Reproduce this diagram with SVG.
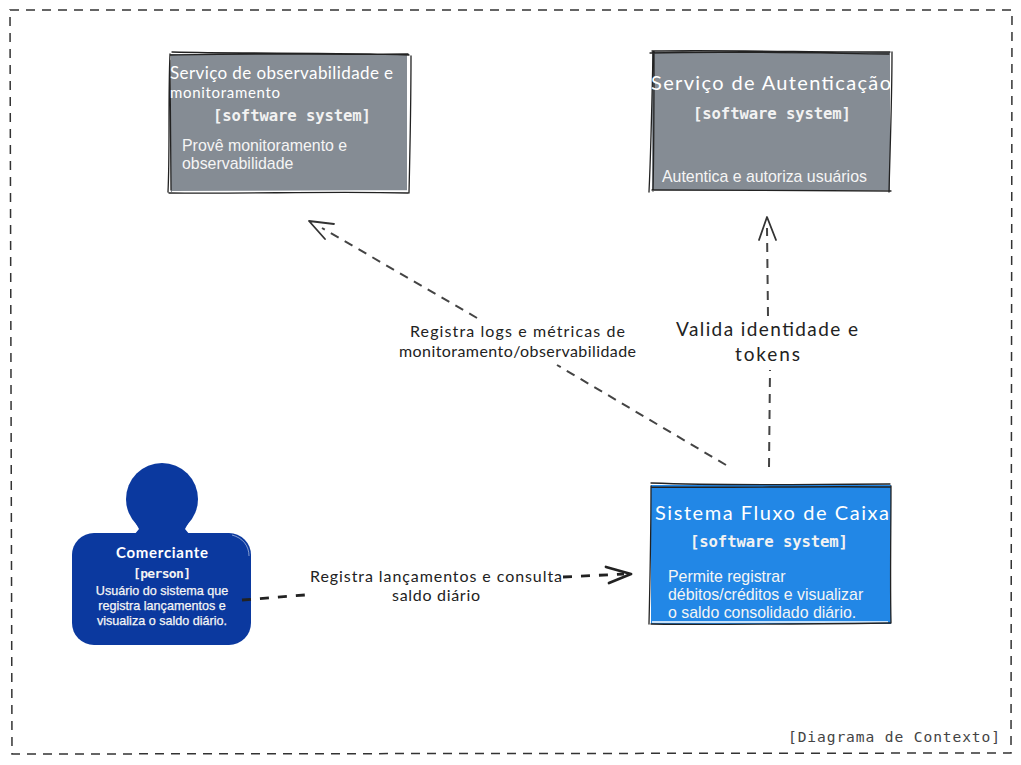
<svg xmlns="http://www.w3.org/2000/svg" width="1021" height="765" viewBox="0 0 1021 765">
<style>
.hand{font-family:"Lato","Open Sans",sans-serif;fill:#fff}
.lbl{font-family:"Lato","Open Sans",sans-serif;fill:#222}
.mono{font-family:"DejaVu Sans Mono","Liberation Mono",monospace;font-weight:700;font-size:15.6px;fill:#f2f2f2}
.body{font-family:"Liberation Sans",Arial,sans-serif;font-size:15.9px;fill:#f5f5f5}
.small{font-family:"Liberation Sans",Arial,sans-serif;font-size:12.6px;fill:#f5f5f5;stroke:#f5f5f5;stroke-width:.25}
.sk{fill:none;stroke:#222;stroke-width:1.3;stroke-linecap:round}
.gray{fill:#858c94}
.blue{fill:#2287e6}
.navy{fill:#0b399f}
.dash{fill:none;stroke:#444;stroke-width:2;stroke-dasharray:9 7}
.head{fill:none;stroke:#333;stroke-width:1.8;stroke-linecap:round;stroke-linejoin:round}
.dashb{fill:none;stroke:#222;stroke-width:2.8;stroke-dasharray:9 9}
.headb{fill:none;stroke:#222;stroke-width:2.8;stroke-linecap:round;stroke-linejoin:round}
</style>
<g id="boundary">
<path d="M10 10L1012 10L1011 753L12 754Z" fill="none" stroke="#333" stroke-width="1.5" stroke-dasharray="9 7"/>
<text x="788" y="742" font-family="DejaVu Sans Mono,Liberation Mono,monospace" font-size="14.6px" fill="#444" textLength="212">[Diagrama de Contexto]</text>
</g>
<g id="observabilidade">
<rect class="gray" x="171" y="54" width="238" height="138"/>
<path d="M408 55L408 191L172 192" fill="none" stroke="#fff" stroke-width="2"/>
<path class="sk" d="M170 55C250 53 330 55 408 54M170 54C168 100 170 150 168 192M411 56C411 100 410 150 409 193M169 193C250 194 330 191 408 193M172 52C250 54 330 52 409 55M170 60C170 100 171 150 171 190"/>
<text class="hand" font-size="17" x="170" y="79" textLength="223">Serviço de observabilidade e</text>
<text class="hand" font-size="15" x="170" y="98" textLength="110">monitoramento</text>
<text class="mono" x="213" y="121" textLength="158">[software system]</text>
<text class="body" x="182" y="151">Provê monitoramento e</text>
<text class="body" x="182" y="169">observabilidade</text>
</g>
<g id="autenticacao">
<rect class="gray" x="652" y="52" width="238" height="138"/>
<path class="sk" d="M652 51C730 50 810 52 890 52M653 52C652 100 651 150 649 192M892 52C892 100 890 150 889 192M652 190C730 191 810 190 891 191M654 52C654 100 654 150 653 191M650 53C730 51 810 53 889 54"/>
<text class="hand" font-size="20" x="651" y="90" textLength="240">Serviço de Autenticação</text>
<text class="mono" x="693" y="119" textLength="158">[software system]</text>
<text class="body" x="662" y="182">Autentica e autoriza usuários</text>
</g>
<g id="fluxo">
<rect class="blue" x="651" y="485" width="240" height="139"/>
<path d="M652 622L888 622" stroke="#fff" stroke-width="1.5" fill="none"/>
<path class="sk" d="M651 483C730 486 810 484 890 484M651 487C730 488 810 486 890 487M651 486C651 530 650 580 649 624M891 486C891 530 890 580 891 623M651 624C730 625 810 624 891 623"/>
<text class="hand" font-size="20" x="655" y="520" textLength="234">Sistema Fluxo de Caixa</text>
<text class="mono" x="690" y="547" textLength="158">[software system]</text>
<text class="body" x="668" y="582">Permite registrar</text>
<text class="body" x="668" y="600">débitos/créditos e visualizar</text>
<text class="body" x="668" y="618">o saldo consolidado diário.</text>
</g>
<g id="comerciante">
<circle class="navy" cx="162" cy="499" r="36"/>
<path class="navy" d="M134 520L190 520L185 529L190 535L134 535L139 529Z"/>
<rect class="navy" x="72" y="533" width="179" height="112" rx="22"/>
<path d="M232 535C243 538 249 546 249 556" fill="none" stroke="#fff" stroke-opacity=".5" stroke-width="1"/>
<text class="hand" font-size="15" x="116" y="558" textLength="92" font-weight="700">Comerciante</text>
<text class="mono" style="font-size:13px" x="133" y="578" textLength="58">[person]</text>
<text class="small" x="162" y="595" text-anchor="middle">Usuário do sistema que</text>
<text class="small" x="162" y="610" text-anchor="middle">registra lançamentos e</text>
<text class="small" x="162" y="625" text-anchor="middle">visualiza o saldo diário.</text>
</g>
<g id="connectors">
<path class="dash" d="M726 465L557 365"/>
<path class="dash" d="M477 318L322 228"/>
<path class="head" d="M334 224L309 221L325 239"/>
<path class="dash" d="M769 467L770 370"/>
<path class="dash" d="M768 316L767 228"/>
<path class="head" d="M759 240L767 217L776 240"/>
<path class="dashb" d="M242 600L305 595"/>
<path class="dashb" d="M563 577L624 574"/>
<path class="headb" d="M606 567L631 574L609 583"/>
<text class="lbl" font-size="16" x="410" y="337" textLength="215">Registra logs e métricas de</text>
<text class="lbl" font-size="16" x="399" y="357" textLength="237">monitoramento/observabilidade</text>
<text class="lbl" font-size="19" x="676" y="336" textLength="182">Valida identidade e</text>
<text class="lbl" font-size="19" x="735" y="361" textLength="65">tokens</text>
<text class="lbl" font-size="16" x="310" y="582" textLength="252">Registra lançamentos e consulta</text>
<text class="lbl" font-size="16" x="392" y="601" textLength="88">saldo diário</text>
</g>
</svg>
